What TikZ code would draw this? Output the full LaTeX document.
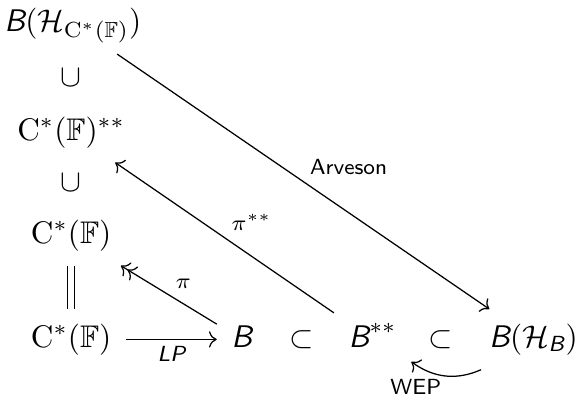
\documentclass[tikz,border=0pt]{standalone}
\usepackage{amsmath,amssymb}
\usetikzlibrary{arrows.meta,bending}
\newcommand{\sfit}[1]{\textsf{\itshape #1}}
\tikzset{
  obj/.style={anchor=base,inner sep=4.5pt,text height=7.5pt,text depth=2.5pt},
  rel/.style={anchor=base,inner sep=0pt},
  arr/.style={-{Computer Modern Rightarrow},line width=0.4pt},
  epi/.style={-{Computer Modern Rightarrow[]Computer Modern Rightarrow[]},line width=0.4pt},
  eq/.style={double,double distance=1.8pt,line width=0.4pt},
  lbl/.style={font=\scriptsize,inner sep=2pt},
}
\begin{document}
\begin{tikzpicture}
  \useasboundingbox (0,0) rectangle (6.5,4.455);
  % left column
  \node[obj] (bhc)  at (0.82,4.10) {$\sfit{B}(\mathcal{H}_{\mathrm{C}^*(\mathbb{F})})$};
  \node[rel] (sub1) at (0.80,3.48) {$\cup$};
  \node[obj] (cff)  at (0.80,2.88) {$\mathrm{C}^*(\mathbb{F})^{**}$};
  \node[rel] (sub2) at (0.80,2.30) {$\cup$};
  \node[obj] (cf)   at (0.80,1.72) {$\mathrm{C}^*(\mathbb{F})$};
  % bottom row
  \node[obj] (cfb)  at (0.80,0.55) {$\mathrm{C}^*(\mathbb{F})$};
  \node[obj] (b)    at (2.72,0.55) {$\sfit{B}$};
  \node[rel] (sub3) at (3.39,0.55) {$\subset$};
  \node[obj] (bss)  at (4.19,0.55) {$\sfit{B}^{**}$};
  \node[rel] (sub4) at (4.96,0.55) {$\subset$};
  \node[obj] (bhb)  at (6.00,0.55) {$\sfit{B}(\mathcal{H}_{\sfit{B}})$};
  % maps
  \draw[eq] (cf) -- (cfb);
  \draw[arr] (cfb) -- node[lbl,below]{$\sfit{LP}$} (b);
  \draw[epi] (b) -- node[lbl,above right]{$\pi$} (cf);
  \draw[arr] (bss) -- node[lbl,above right]{$\pi^{**}$} (cff);
  \draw[arr] (bhc) -- node[lbl,above right]{\textsf{Arveson}} (bhb);
  \draw[arr] (bhb) to[bend left=30] node[lbl,below left,inner sep=1pt]{\textsf{WEP}} (bss);
\end{tikzpicture}
\end{document}
